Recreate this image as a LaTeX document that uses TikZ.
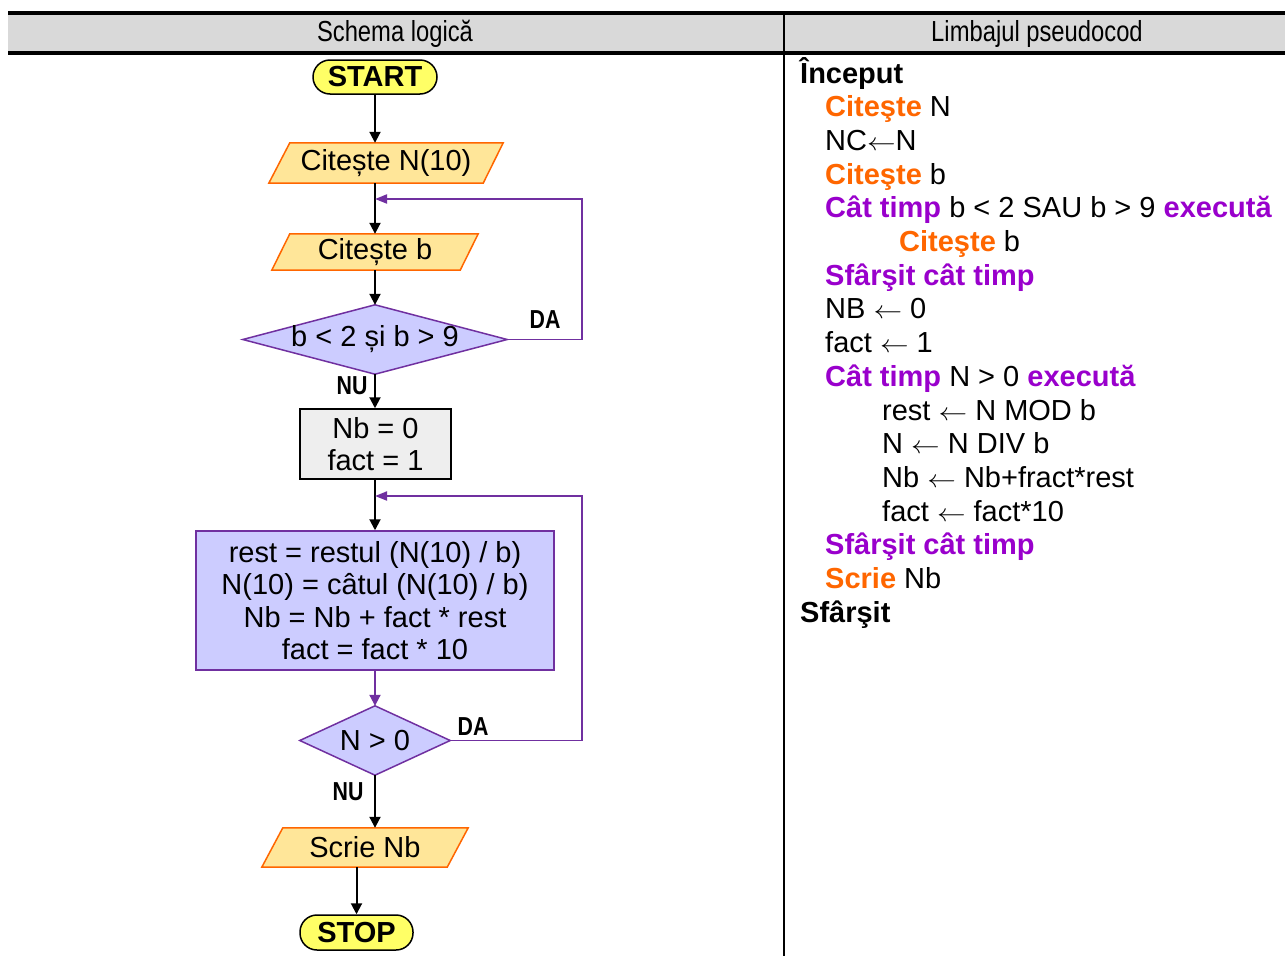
\documentclass[tikz,border=0pt]{standalone}
\usepackage{fontspec}
\usepackage{graphicx}
\setmainfont{Liberation Sans}
\newfontfamily\narrowfont[FakeStretch=0.82]{Liberation Sans}
\usetikzlibrary{arrows.meta,calc,backgrounds}

\definecolor{termyellow}{HTML}{FFFF66}
\definecolor{iofill}{HTML}{FFE699}
\definecolor{ioline}{HTML}{FF6600}
\definecolor{decfill}{HTML}{CCCCFF}
\definecolor{decline}{HTML}{7030A0}
\definecolor{procfill}{HTML}{EEEEEE}
\definecolor{headfill}{HTML}{D9D9D9}
\definecolor{kwread}{HTML}{FF6600}
\definecolor{kwloop}{HTML}{9900CC}

% assignment arrow used in the pseudocode
\newcommand{\codearrow}{\scalebox{1.15}[1]{$\leftarrow$}}

\tikzset{
  txt/.style={font=\fontsize{29}{32.5}\selectfont, inner sep=0pt},
  headtxt/.style={font=\narrowfont\fontsize{29}{32}\selectfont, inner sep=0pt},
  branch/.style={font=\narrowfont\bfseries\fontsize{26}{28}\selectfont, inner sep=0pt},
  terminal/.style={txt, font=\bfseries\fontsize{29}{32}\selectfont, draw=black, line width=1.5pt,
    fill=termyellow, rounded corners=17pt},
  slot/.style={txt, align=center},
  ioshape/.style={draw=ioline, fill=iofill, line width=1.5pt, line join=miter},
  decshape/.style={draw=decline, fill=decfill, line width=1.5pt, line join=miter},
  process/.style={txt, rectangle, draw=black, fill=procfill, line width=1.5pt, align=center},
  bigproc/.style={txt, rectangle, draw=decline, fill=decfill, line width=1.5pt, align=center},
  flow/.style={draw=black, line width=2pt, -{Triangle[length=11pt,width=11pt]}},
  flowp/.style={draw=decline, line width=2pt, -{Triangle[length=11pt,width=11pt]}},
  loopline/.style={draw=decline, line width=1.8pt, -{Triangle[length=12pt,width=9pt]}},
  code/.style={txt, anchor=base west},
}

\begin{document}
\begin{tikzpicture}[x=1pt,y=-1pt]
\useasboundingbox (0,0) rectangle (1285,956);

% table header
\fill[headfill] (8,13) rectangle (1285,53);
\draw[line width=3.5pt] (8,13) -- (1285,13);
\draw[line width=3.5pt] (8,53) -- (1285,53);
\draw[line width=1.8pt] (784,13) -- (784,956);
\node[headtxt] (h1) at (395,34) {Schema logică};
\node[headtxt] (h2) at (1037,34) {Limbajul pseudocod};

% flowchart blocks
\node[terminal, minimum width=124pt, minimum height=34pt] (start) at (375,77) {START};
\node[slot, minimum width=234pt, minimum height=40pt] (in1) at (386,163) {Citește N(10)};
\node[slot, minimum width=206pt, minimum height=36pt] (in2) at (375,252) {Citește b};
\node[slot, minimum width=264pt, minimum height=69pt] (d1) at (375,339.5) {b < 2 și b > 9};
\node[process, minimum width=151pt, minimum height=70pt] (r1) at (375.5,444) {Nb = 0\\fact = 1};
\node[bigproc, minimum width=358pt, minimum height=139pt] (box) at (375,600.5)
  {rest = restul (N(10) / b)\\N(10) = câtul (N(10) / b)\\Nb = Nb + fact * rest\\fact = fact * 10};
\node[slot, minimum width=150pt, minimum height=69pt] (d2) at (375,740.5) {N > 0};
\node[slot, minimum width=206pt, minimum height=39pt] (out) at (365,847.5) {Scrie Nb};
\node[terminal, minimum width=113pt, minimum height=35pt] (stop) at (356.5,932.5) {STOP};

% parallelogram and diamond outlines behind their texts
\begin{scope}[on background layer]
  \path[ioshape] ($(in1.north west)+(21,0)$) -- (in1.north east)
    -- ($(in1.south east)+(-20,0)$) -- (in1.south west) -- cycle;
  \path[ioshape] ($(in2.north west)+(18,0)$) -- (in2.north east)
    -- ($(in2.south east)+(-18,0)$) -- (in2.south west) -- cycle;
  \path[ioshape] ($(out.north west)+(21,0)$) -- (out.north east)
    -- ($(out.south east)+(-21,0)$) -- (out.south west) -- cycle;
  \path[decshape] (d1.north) -- (d1.east) -- (d1.south) -- (d1.west) -- cycle;
  \path[decshape] (d2.north) -- (d2.east) -- (d2.south) -- (d2.west) -- cycle;
\end{scope}

% connectors
\draw[flow] (start.south) -- (start.south |- in1.north);
\draw[flow] (in1.south -| in2.north) -- (in2.north);
\draw[flow] (in2.south) -- (d1.north);
\draw[flow] (d1.south) -- (d1.south |- r1.north);
\draw[flow] (box.north |- r1.south) -- (box.north);
\draw[flowp] (box.south) -- (d2.north);
\draw[flow] (d2.south) -- (d2.south |- out.north);
\draw[flow] (stop.north |- out.south) -- (stop.north);

% loop-backs
\coordinate (j1) at (375,199);
\coordinate (j2) at (375,496);
\draw[loopline] (d1.east) -- ++(75,0) |- (j1);
\draw[loopline] (d2.east) -- ++(132,0) |- (j2);

% branch labels
\node[branch] (da1) at (545,320) {DA};
\node[branch] (nu1) at (352,386) {NU};
\node[branch] (da2) at (473,727) {DA};
\node[branch] (nu2) at (348,792) {NU};

% pseudocode
\node[code] (p1)  at (800,83)    {\bfseries Început};
\node[code] (p2)  at (825,116.7) {\textcolor{kwread}{\bfseries Citeşte} N};
\node[code] (p3)  at (825,150.4) {NC\codearrow N};
\node[code] (p4)  at (825,184.1) {\textcolor{kwread}{\bfseries Citeşte} b};
\node[code] (p5)  at (825,217.8) {\textcolor{kwloop}{\bfseries Cât timp} b < 2 SAU b > 9 \textcolor{kwloop}{\bfseries execută}};
\node[code] (p6)  at (899,251.5) {\textcolor{kwread}{\bfseries Citeşte} b};
\node[code] (p7)  at (825,285.2) {\textcolor{kwloop}{\bfseries Sfârşit cât timp}};
\node[code] (p8)  at (825,318.9) {NB \codearrow{} 0};
\node[code] (p9)  at (825,352.6) {fact \codearrow{} 1};
\node[code] (p10) at (825,386.3) {\textcolor{kwloop}{\bfseries Cât timp} N > 0 \textcolor{kwloop}{\bfseries execută}};
\node[code] (p11) at (882,420)   {rest \codearrow{} N MOD b};
\node[code] (p12) at (882,453.7) {N \codearrow{} N DIV b};
\node[code] (p13) at (882,487.4) {Nb \codearrow{} Nb+fract*rest};
\node[code] (p14) at (882,521.1) {fact \codearrow{} fact*10};
\node[code] (p15) at (825,554.8) {\textcolor{kwloop}{\bfseries Sfârşit cât timp}};
\node[code] (p16) at (825,588.5) {\textcolor{kwread}{\bfseries Scrie} Nb};
\node[code] (p17) at (800,622.2) {\bfseries Sfârşit};
\end{tikzpicture}
\end{document}
